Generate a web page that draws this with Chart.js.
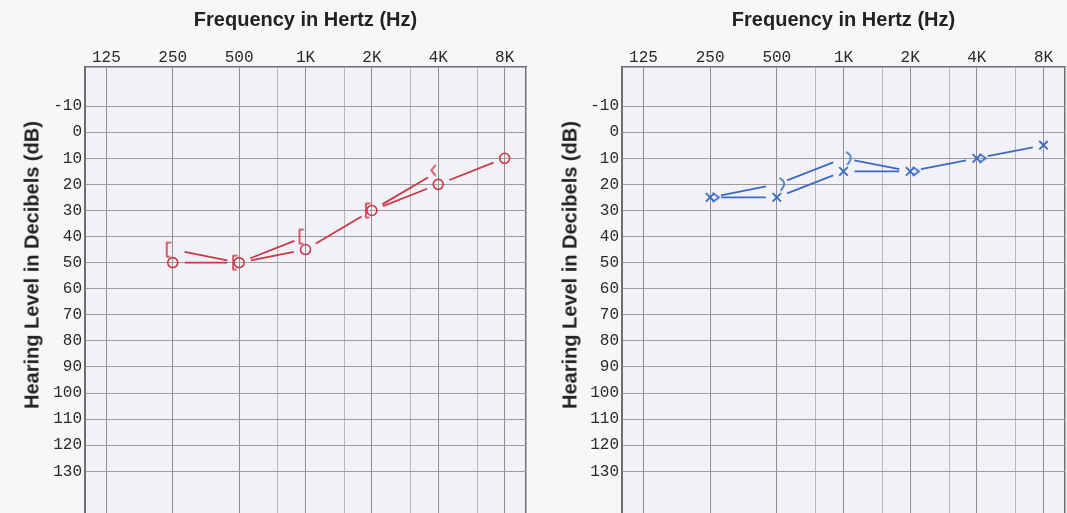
<!DOCTYPE html>
<html>
<head>
<meta charset="utf-8">
<script src="https://cdn.jsdelivr.net/npm/chart.js@4.4.1/dist/chart.umd.min.js"></script>
<style>
  body { margin:0; background:#f7f7f9; width:1067px; height:513px; overflow:hidden; position:relative; }
  .box { position:absolute; top:0; height:513px; }
  #leftBox { left:0; width:535px; }
  #rightBox { left:537px; width:530px; }
  .ytitle { position:absolute; top:265px; font:bold 20px 'Liberation Sans', Arial, sans-serif; color:#222;
            white-space:nowrap; transform:translate(-50%,-50%) rotate(-90deg); }
</style>
</head>
<body>
<div class="box" id="leftBox"><canvas id="rightEar"></canvas></div>
<div class="box" id="rightBox"><canvas id="leftEar"></canvas></div>
<div class="ytitle" style="left:32px">Hearing Level in Decibels (dB)</div>
<div class="ytitle" style="left:570px">Hearing Level in Decibels (dB)</div>
<script>
// test frequencies (Hz)
const freqs = [250, 500, 1000, 2000, 4000, 8000];
const boneFreqs = [250, 500, 1000, 2000, 4000];

// right ear, red: air O, bone [
const rightAir = [50, 50, 45, 30, 20, 10];
const rightBone = [45, 50, 40, 30, 15];
const rightBoneMark = ['[', '[', '[', '[', '<'];

// left ear, blue: air X, bone >
const leftAir = [25, 25, 15, 15, 10, 5];
const leftBone = [25, 20, 10, 15, 10];
const leftBoneMark = ['>', ')', ')', '>', '>'];

const xGrid = [100, 125, 250, 500, 750, 1000, 1500, 2000, 3000, 4000, 6000, 8000, 10000];
const xLabels = {125: '125', 250: '250', 500: '500', 1000: '1K', 2000: '2K', 4000: '4K', 8000: '8K'};
const yTicks = [-10, 0, 10, 20, 30, 40, 50, 60, 70, 80, 90, 100, 110, 120, 130];

const RED = '#c93a46';
const BLUE = '#3a6bc4';

function pts(xs, ys) {
  return xs.map((x, i) => ({x: x, y: ys[i]}));
}

// small hand drawn bone conduction symbols, offset from the point centre
function markImg(ch, color) {
  const c = document.createElement('canvas');
  c.width = 30; c.height = 30;
  const g = c.getContext('2d');
  g.strokeStyle = color; g.lineWidth = 1.6;
  g.lineCap = 'round'; g.lineJoin = 'round';
  g.beginPath();
  if (ch == '[') {
    g.moveTo(13, 8); g.lineTo(9, 8); g.lineTo(9, 22); g.lineTo(12, 22);
  } else if (ch == '<') {
    g.moveTo(12, 9); g.lineTo(8, 14); g.lineTo(12, 19);
  } else if (ch == '>') {
    g.moveTo(18, 11); g.lineTo(24, 15); g.lineTo(18, 19);
  } else {
    g.moveTo(18, 9); g.quadraticCurveTo(26, 13, 19, 21);
  }
  g.stroke();
  return c;
}

// line pieces stop short of the symbols
function gapped(gap) {
  return {
    borderDash: c => {
      const len = Math.hypot(c.p1.x - c.p0.x, c.p1.y - c.p0.y);
      return [0, gap, Math.max(len - 2 * gap, 0), len + 50];
    }
  };
}

const paper = {
  id: 'paper',
  beforeDraw(chart) {
    const {ctx, chartArea: a} = chart;
    ctx.save();
    ctx.fillStyle = '#f1f1f7';
    ctx.fillRect(a.left, a.top, a.right - a.left, a.bottom - a.top);
    ctx.restore();
  }
};

function noPad(a) {
  a.paddingTop = 0; a.paddingBottom = 0; a.paddingLeft = 0; a.paddingRight = 0;
}

function audiogram(id, datasets, padRight) {
  return new Chart(document.getElementById(id), {
    type: 'line',
    data: {datasets: datasets},
    plugins: [paper],
    options: {
      responsive: true,
      maintainAspectRatio: false,
      animation: false,
      events: [],
      layout: {autoPadding: false, padding: {left: 0, right: padRight, top: 0, bottom: 0}},
      plugins: {legend: {display: false}, tooltip: {enabled: false}},
      scales: {
        x: {
          type: 'logarithmic',
          position: 'top',
          min: 100,
          max: 10000,
          afterBuildTicks: a => { a.ticks = xGrid.map(v => ({value: v})); },
          afterFit: a => { a.height = 67; noPad(a); },
          ticks: {
            autoSkip: false, maxRotation: 0, padding: 0, color: '#2a2a2a',
            font: {family: 'Liberation Mono', size: 16},
            callback: v => xLabels[v] || ''
          },
          grid: {
            drawTicks: false,
            color: c => (c.tick.value == 100 || c.tick.value == 10000) ? '#6e6e6e' : (xLabels[c.tick.value] ? '#8e8e8e' : '#b8b8b8'),
            lineWidth: c => (c.tick.value == 10000) ? 1.5 : 1
          },
          border: {color: '#6e6e6e', width: 1.5},
          title: {
            display: true, text: 'Frequency in Hertz (Hz)', color: '#222',
            font: {family: 'Liberation Sans', size: 20, weight: 'bold'},
            padding: {top: 8, bottom: 0}
          }
        },
        y: {
          reverse: true,
          min: -25,
          max: 146,
          afterBuildTicks: a => { a.ticks = yTicks.map(v => ({value: v})); },
          afterFit: a => { a.width = 85; noPad(a); },
          ticks: {padding: 3, color: '#2a2a2a', font: {family: 'Liberation Mono', size: 16}},
          grid: {drawTicks: false, color: '#9d9d9d'},
          border: {color: '#6e6e6e', width: 1.5}
        }
      }
    }
  });
}

audiogram('rightEar', [
  {
    data: pts(freqs, rightAir),
    borderColor: RED, borderWidth: 1.8,
    pointStyle: 'circle', pointRadius: 5, pointBorderWidth: 1.6,
    pointBorderColor: RED, pointBackgroundColor: 'rgba(0,0,0,0)',
    segment: gapped(12)
  },
  {
    data: pts(boneFreqs, rightBone),
    borderColor: RED, borderWidth: 1.8,
    pointStyle: rightBoneMark.map(m => markImg(m, RED)),
    segment: gapped(12)
  }
], 9);

audiogram('leftEar', [
  {
    data: pts(freqs, leftAir),
    borderColor: BLUE, borderWidth: 1.8,
    pointStyle: 'crossRot', pointRadius: 6, pointBorderWidth: 1.8,
    pointBorderColor: BLUE,
    segment: gapped(11)
  },
  {
    data: pts(boneFreqs, leftBone),
    borderColor: BLUE, borderWidth: 1.8,
    pointStyle: leftBoneMark.map(m => markImg(m, BLUE)),
    segment: gapped(11)
  }
], 2);
</script>
</body>
</html>
